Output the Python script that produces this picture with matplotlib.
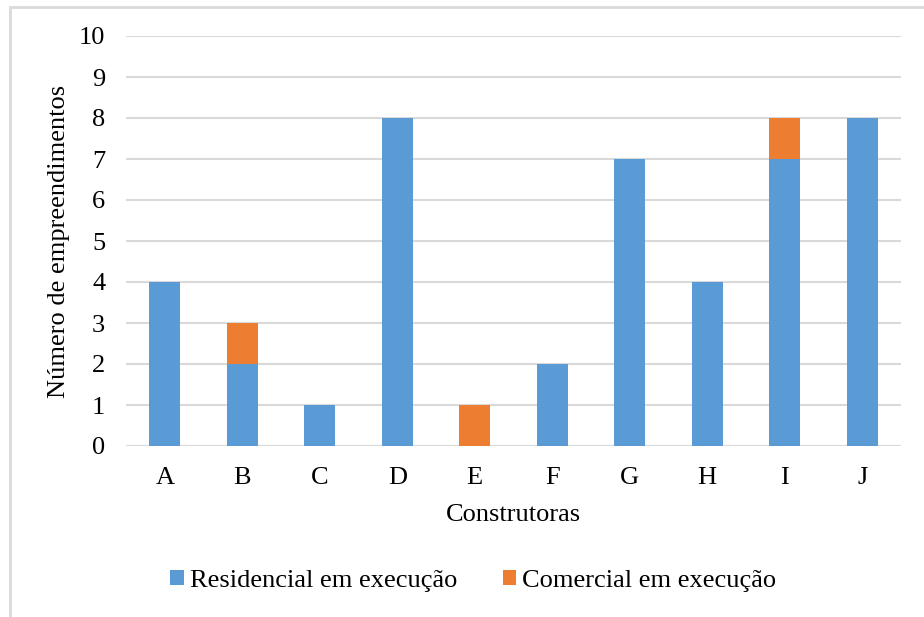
import matplotlib
matplotlib.use("Agg")
import matplotlib.pyplot as plt
from matplotlib.patches import Rectangle

plt.rcParams['font.family'] = ['Liberation Serif', 'DejaVu Serif']

categories = ["A", "B", "C", "D", "E", "F", "G", "H", "I", "J"]
residencial = [4, 2, 1, 8, 0, 2, 7, 4, 7, 8]
comercial = [0, 1, 0, 0, 1, 0, 0, 0, 1, 0]
yticks = list(range(0, 11))

blue = "#5B9BD5"
orange = "#ED7D31"
grid = "#D9D9D9"

fig = plt.figure(figsize=(9.24, 6.17), dpi=100)
ax = fig.add_axes([126 / 924, 1 - 446 / 617, 775 / 924, 410 / 617])

x = list(range(len(categories)))
ax.bar(x, residencial, width=0.4, color=blue, label="Residencial em execução", zorder=3)
ax.bar(x, comercial, width=0.4, bottom=residencial, color=orange,
       label="Comercial em execução", zorder=3)

ax.set_xlim(-0.5, len(categories) - 0.5)
ax.set_ylim(0, 10)
ax.set_yticks(yticks)
ax.set_xticks(x)
ax.set_xticklabels(categories)
ax.yaxis.grid(True, color=grid, linewidth=1.5, zorder=0)
for s in ax.spines.values():
    s.set_visible(False)
ax.axhline(0, color=grid, linewidth=1.5, zorder=1)
ax.tick_params(axis='both', length=0, labelsize=19, colors="#000000")
ax.tick_params(axis='x', pad=15)
ax.tick_params(axis='y', pad=15)

ax.set_xlabel("Construtoras", fontsize=19, labelpad=11)
ax.set_ylabel("Número de empreendimentos", fontsize=19, labelpad=6)

fig.legend(loc="center", bbox_to_anchor=(473.5 / 924, 1 - 581 / 617), ncol=2,
           frameon=False, fontsize=19, handlelength=0.5, handleheight=0.5,
           handletextpad=0.23, columnspacing=1.75)

# outer chart frame
fig.patches.append(Rectangle((10 / 924, -0.1), 1.2, 1 - 7 / 617 + 0.1,
                             transform=fig.transFigure, fill=False,
                             edgecolor=grid, linewidth=2))

fig.savefig("out.png", dpi=100, facecolor="white")
